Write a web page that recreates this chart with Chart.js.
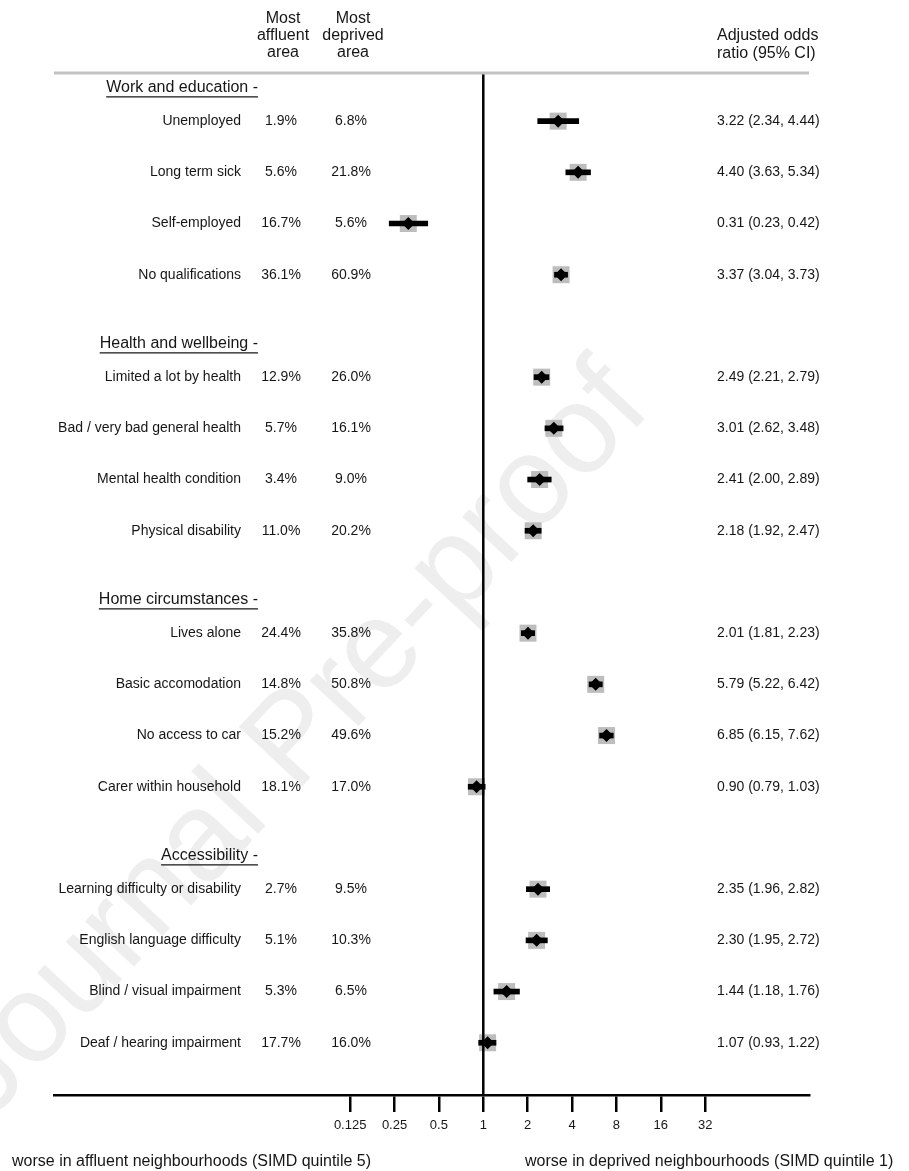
<!DOCTYPE html>
<html>
<head>
<meta charset="utf-8">
<script src="https://cdn.jsdelivr.net/npm/chart.js@4/dist/chart.umd.min.js"></script>
<style>
  html, body { margin: 0; padding: 0; background: #fff; }
  canvas { display: block; }
</style>
</head>
<body>
<canvas id="forest" width="909" height="1171"></canvas>
<script>
// ---- data ----
const groups = ['Work and education -', 'Health and wellbeing -', 'Home circumstances -', 'Accessibility -'];

const categories = [
  'Unemployed', 'Long term sick', 'Self-employed', 'No qualifications',
  'Limited a lot by health', 'Bad / very bad general health', 'Mental health condition', 'Physical disability',
  'Lives alone', 'Basic accomodation', 'No access to car', 'Carer within household',
  'Learning difficulty or disability', 'English language difficulty', 'Blind / visual impairment', 'Deaf / hearing impairment'
];

const categoryGroup = [0, 0, 0, 0, 1, 1, 1, 1, 2, 2, 2, 2, 3, 3, 3, 3];

const affluentPct = [1.9, 5.6, 16.7, 36.1, 12.9, 5.7, 3.4, 11.0, 24.4, 14.8, 15.2, 18.1, 2.7, 5.1, 5.3, 17.7];
const deprivedPct = [6.8, 21.8, 5.6, 60.9, 26.0, 16.1, 9.0, 20.2, 35.8, 50.8, 49.6, 17.0, 9.5, 10.3, 6.5, 16.0];

const oddsRatio = [3.22, 4.40, 0.31, 3.37, 2.49, 3.01, 2.41, 2.18, 2.01, 5.79, 6.85, 0.90, 2.35, 2.30, 1.44, 1.07];
const ciLower   = [2.34, 3.63, 0.23, 3.04, 2.21, 2.62, 2.00, 1.92, 1.81, 5.22, 6.15, 0.79, 1.96, 1.95, 1.18, 0.93];
const ciUpper   = [4.44, 5.34, 0.42, 3.73, 2.79, 3.48, 2.89, 2.47, 2.23, 6.42, 7.62, 1.03, 2.82, 2.72, 1.76, 1.22];

const tickValues = [0.125, 0.25, 0.5, 1, 2, 4, 8, 16, 32];
const tickLabels = ['0.125', '0.25', '0.5', '1', '2', '4', '8', '16', '32'];

const leftCaption = 'worse in affluent neighbourhoods (SIMD quintile 5)';
const rightCaption = 'worse in deprived neighbourhoods (SIMD quintile 1)';

// ---- layout helpers ----
const FONT = '"Liberation Sans", Arial, Helvetica, sans-serif';
const TEXT = '#161616';

// each group leaves one empty row before the next one
const rowSlot = categories.map((_, i) => i + categoryGroup[i]);
const groupSlot = groups.map((_, g) => rowSlot[categoryGroup.indexOf(g)] - 0.65);

const fmt2 = v => v.toFixed(2);
const pct = v => v.toFixed(1) + '%';

const ciData = categories.map((_, i) => ({ y: rowSlot[i], x: [ciLower[i], ciUpper[i]] }));
const pointData = categories.map((_, i) => ({ x: oddsRatio[i], y: rowSlot[i] }));

// ---- text columns, rules and watermark ----
const forestText = {
  id: 'forestText',
  beforeDraw(chart) {
    const ctx = chart.ctx;
    ctx.save();
    ctx.translate(296, 742);
    ctx.rotate(-47 * Math.PI / 180);
    ctx.font = '126px ' + FONT;
    ctx.fillStyle = '#eeeeee';
    ctx.textAlign = 'center';
    ctx.textBaseline = 'middle';
    ctx.fillText('Journal Pre-proof', 0, 0);
    ctx.restore();
  },
  afterDatasetsDraw(chart) {
    const { ctx, chartArea, scales: { x } } = chart;
    ctx.save();
    // reference line at odds ratio 1
    const x1 = x.getPixelForValue(1);
    ctx.strokeStyle = '#000';
    ctx.lineWidth = 2.5;
    ctx.beginPath();
    ctx.moveTo(x1, chartArea.top);
    ctx.lineTo(x1, chartArea.bottom);
    ctx.stroke();
    // top rule under the column headings
    ctx.strokeStyle = '#c2c2c2';
    ctx.lineWidth = 3;
    ctx.beginPath();
    ctx.moveTo(chartArea.left, chartArea.top);
    ctx.lineTo(chartArea.right, chartArea.top);
    ctx.stroke();
    ctx.restore();
  },
  afterDraw(chart) {
    const { ctx, scales: { y } } = chart;
    ctx.save();
    ctx.fillStyle = TEXT;
    ctx.textBaseline = 'middle';

    // column headings
    ctx.font = '16px ' + FONT;
    ctx.textAlign = 'center';
    ['Most', 'affluent', 'area'].forEach((t, k) => ctx.fillText(t, 283, 19 + k * 17));
    ['Most', 'deprived', 'area'].forEach((t, k) => ctx.fillText(t, 353, 19 + k * 17));
    ctx.textAlign = 'left';
    ctx.fillText('Adjusted odds', 717, 36);
    ctx.fillText('ratio (95% CI)', 717, 54);

    // group headings, underlined
    groups.forEach((g, k) => {
      const py = y.getPixelForValue(groupSlot[k]);
      ctx.font = '16px ' + FONT;
      ctx.textAlign = 'right';
      ctx.fillText(g, 258, py);
      const w = ctx.measureText(g).width;
      ctx.strokeStyle = TEXT;
      ctx.lineWidth = 1.3;
      ctx.beginPath();
      ctx.moveTo(258 - w, py + 9);
      ctx.lineTo(258, py + 9);
      ctx.stroke();
    });

    // row labels and values
    ctx.font = '14px ' + FONT;
    categories.forEach((c, i) => {
      const py = y.getPixelForValue(rowSlot[i]);
      ctx.textAlign = 'right';
      ctx.fillText(c, 241, py);
      ctx.textAlign = 'center';
      ctx.fillText(pct(affluentPct[i]), 281, py);
      ctx.fillText(pct(deprivedPct[i]), 351, py);
      ctx.textAlign = 'left';
      ctx.fillText(`${fmt2(oddsRatio[i])} (${fmt2(ciLower[i])}, ${fmt2(ciUpper[i])})`, 717, py);
    });

    // direction captions
    ctx.font = '16px ' + FONT;
    ctx.textAlign = 'left';
    ctx.fillText(leftCaption, 12, 1162);
    ctx.fillText(rightCaption, 525, 1162);
    ctx.restore();
  }
};

new Chart(document.getElementById('forest'), {
  type: 'bar',
  data: {
    datasets: [
      {
        type: 'scatter',
        label: 'Odds ratio',
        data: pointData,
        pointStyle: 'rectRot',
        pointRadius: 6.5,
        backgroundColor: '#000',
        borderWidth: 0,
        order: 0
      },
      {
        type: 'bar',
        label: '95% CI',
        indexAxis: 'y',
        data: ciData,
        barThickness: 5,
        backgroundColor: '#000',
        borderWidth: 0,
        order: 1
      },
      {
        type: 'scatter',
        label: 'Weight',
        data: pointData,
        pointStyle: 'rect',
        pointRadius: 12,
        backgroundColor: '#bdbdbd',
        borderWidth: 0,
        order: 2
      }
    ]
  },
  options: {
    indexAxis: 'y',
    responsive: false,
    animation: false,
    events: [],
    layout: { padding: { left: 54, right: 100, top: 73, bottom: 0 } },
    plugins: { legend: { display: false }, tooltip: { enabled: false } },
    scales: {
      x: {
        type: 'logarithmic',
        position: 'bottom',
        bounds: 'data',
        offset: false,
        min: Math.pow(2, -9.674),
        max: Math.pow(2, 7.34),
        afterBuildTicks: s => { s.ticks = tickValues.map(v => ({ value: v })); },
        afterFit: s => { s.height = 76; },
        border: { display: true, color: '#000', width: 2.5 },
        grid: {
          display: true,
          offset: false,
          drawOnChartArea: false,
          drawTicks: true,
          tickLength: 17,
          tickWidth: 2.5,
          tickColor: '#000',
          color: '#000',
          lineWidth: 2.5
        },
        ticks: {
          autoSkip: false,
          maxRotation: 0,
          padding: 6,
          color: TEXT,
          font: { family: FONT, size: 13 },
          callback: (v, i) => tickLabels[i]
        }
      },
      y: {
        type: 'linear',
        display: false,
        reverse: true,
        bounds: 'data',
        offset: false,
        grid: { offset: false },
        min: -0.94,
        max: 19.02
      }
    }
  },
  plugins: [forestText]
});
</script>
</body>
</html>
